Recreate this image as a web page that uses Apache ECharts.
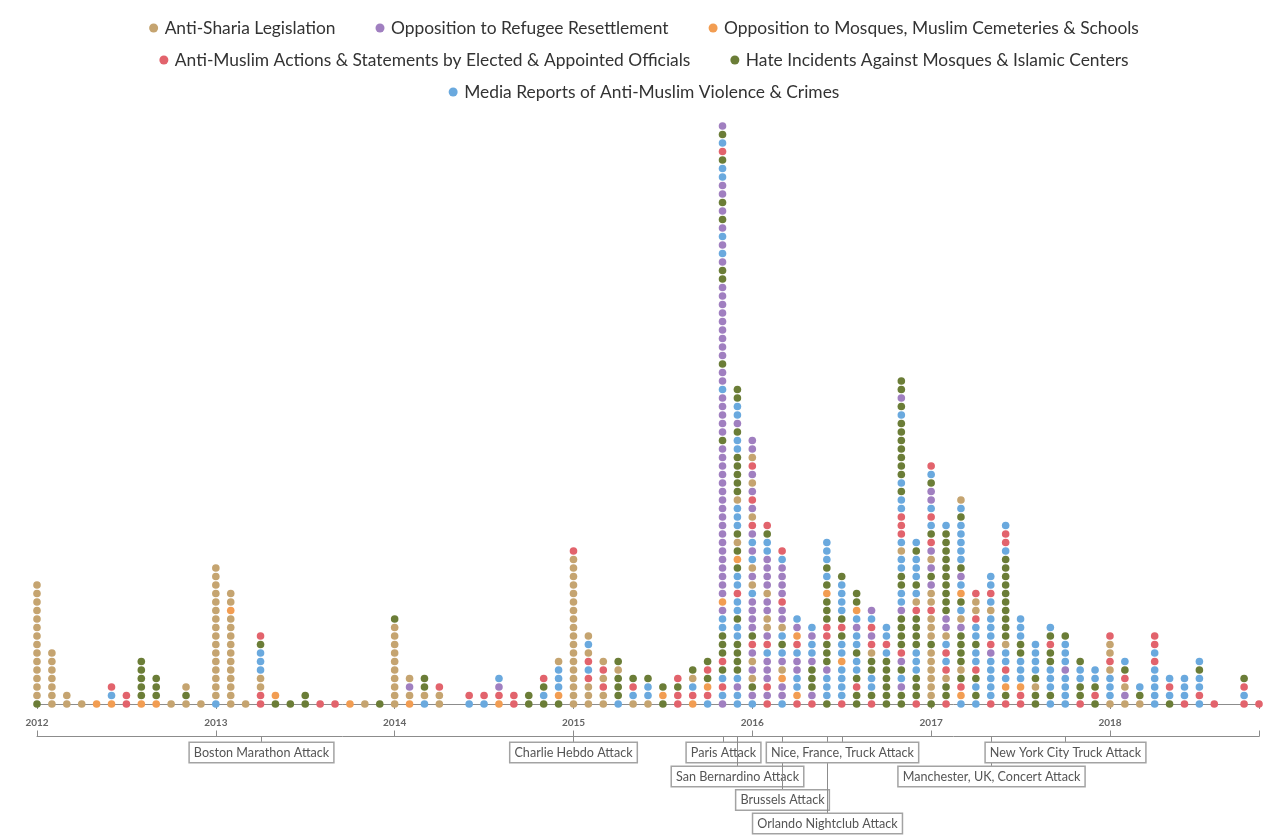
<!DOCTYPE html>
<html><head><meta charset="utf-8">
<script src="https://cdn.jsdelivr.net/npm/echarts@6/dist/echarts.min.js"></script>
<style>html,body{margin:0;background:#fff}#c{width:1288px;height:839px}</style>
</head><body><div id="c"></div>
<script>
// Category codes used in the stacks (bottom -> top)
const categoryCodes = ['S', 'R', 'M', 'O', 'H', 'V'];
const categoryNames = [
  'Anti-Sharia Legislation',
  'Opposition to Refugee Resettlement',
  'Opposition to Mosques, Muslim Cemeteries & Schools',
  'Anti-Muslim Actions & Statements by Elected & Appointed Officials',
  'Hate Incidents Against Mosques & Islamic Centers',
  'Media Reports of Anti-Muslim Violence & Crimes'
];
const categoryColors = ['#c5a470', '#a07fc0', '#f29d52', '#e2636c', '#6b7d37', '#6aa9de'];

const firstYear = 2012;
const yearTicks = ['2012', '2013', '2014', '2015', '2016', '2017', '2018'];

// One entry per month, Jan 2012 .. Nov 2018; each letter is one incident, bottom -> top
const columnStacks = [
  'HSSSSSSSSSSSSSS', 'SSSSSSS', 'SS', 'S', 'M', 'MVO', 'OO', 'MHHHHH', 'MHHH', 'S', 'SHS', 'S',
  'VSSSSSSSSSSSSSSSS', 'SSSSSSSSSSSMSS', 'S', 'OOSSVVVHO', 'HM', 'H', 'HH', 'O', 'O', 'M', 'S', 'H',
  'SSSSSSSSSSH', 'MSRS', 'VSHH', 'SSO', '', 'VO', 'VO', 'MORV', 'OO', 'HH', 'HVHO', 'HMVVVS',
  'SSSSSSSSSSSSSSSSSSO', 'SSSOVOSVS', 'SSOSOS', 'VHHHSH', 'SVOH', 'SVVH', 'HMH', 'OOHO', 'MOVSH', 'VOMHOH',
  'RVOVHOHHHVVRMRRRRRRRRRRRRRRRRRRHRRRRRVRRHRRRRRRRRRHHRVRVRHRHRRVVHOVHR',
  'VVRVHHHHVVHVVOVVHMHSHVVVSHHHHHVVHRVVHH',
  'VRHSRSROHRRRRVSRSVRVROSRORSROSRR', 'ORORRRVORSSRRSRRRRVVHO', 'VRRMSRVHVSRRORRRRVO', 'OMVVRRVOMRV',
  'ORHHHRVVRV', 'HVVVRHHHOOHHHMHVHVVV', 'OVVVVMVVHOHVVVVH', 'HHOHVVHVVRVMHH', 'OHVVHHSOROVR', 'HHHHHHVOVV',
  'HHRVHROHHHHRVVHHVVSVOOOVVHVHHHHHHHVHRHH', 'OHHHVVVHHHHOSVHVVVHV',
  'HSSSSSSHSSSOSSRHRSROHVOVRRHVO', 'OHHSOVOVSRRHHHHHHHHHHV', 'VMOHSHHHHRSVHMVRHVVVVVHVS', 'VHVHOVVHVVOSSO',
  'OVVVVVROVVVSVOVV', 'OHMVOVVSHHHHHHHHHHVOOV', 'OOMVVVHHVVV', 'HHSHVVVV', 'VHVVVHHOHV', 'VVVVRVVVH',
  'OHHVVH', 'HOHVV', 'SVVVSOSSO', 'SRSOHV', 'SHV', 'VVVVVOVOO', 'HVOV', 'OVVV', 'VOVVHV', 'O', '', 'OVOH', 'O'
];

// Annotated events (month index from Jan 2012) and the label row they sit in
const eventNames = ['Boston Marathon Attack', 'Charlie Hebdo Attack', 'Paris Attack', 'San Bernardino Attack',
  'Brussels Attack', 'Orlando Nightclub Attack', 'Nice, France, Truck Attack', 'Manchester, UK, Concert Attack',
  'New York City Truck Attack'];
const eventMonths = [15, 36, 46, 47, 50, 53, 54, 64, 69];
const eventRows = [0, 0, 0, 1, 2, 3, 0, 1, 0];

const lastMonth = columnStacks.length - 1;

const series = categoryCodes.map((code, ci) => {
  const data = [];
  columnStacks.forEach((stack, m) => {
    for (let lvl = 0; lvl < stack.length; lvl++) {
      if (stack[lvl] === code) data.push([m, lvl]);
    }
  });
  return {
    name: categoryNames[ci], type: 'scatter', symbol: 'circle', symbolSize: 7.6,
    itemStyle: { color: categoryColors[ci], opacity: 1 },
    data, silent: true, animation: false
  };
});

const chart = echarts.init(document.getElementById('c'), null, { renderer: 'canvas' });
const legendText = { fontSize: 17.4, fontFamily: 'Lato', color: '#333', lineHeight: 18 };
const legendBase = { left: 'center', icon: 'circle', itemWidth: 12, itemHeight: 9, itemGap: 40, textStyle: legendText, selectedMode: false };

chart.setOption({
  backgroundColor: '#fff',
  animation: false,
  legend: [
    Object.assign({ top: 14, data: categoryNames.slice(0, 3) }, legendBase),
    Object.assign({ top: 46, data: categoryNames.slice(3, 5) }, legendBase),
    Object.assign({ top: 78, data: categoryNames.slice(5) }, legendBase)
  ],
  grid: { left: 37, right: 29, top: 32.5, bottom: 126.5 },
  xAxis: [
    {
      type: 'value', min: 0, max: lastMonth, interval: 12,
      axisLine: { lineStyle: { color: '#8c8c8c', width: 1 } },
      axisTick: { length: 5, lineStyle: { color: '#8c8c8c' } },
      splitLine: { show: false },
      axisLabel: {
        margin: 5, fontSize: 10, fontWeight: 'bold', fontFamily: 'Lato', color: '#666',
        showMaxLabel: true,
        formatter: v => (v % 12 === 0 ? yearTicks[v / 12] : '')
      }
    },
    {
      type: 'value', min: 0, max: lastMonth, interval: 12, position: 'bottom', offset: 24,
      axisLine: { lineStyle: { color: '#8c8c8c', width: 1 } },
      axisTick: { inside: true, length: 6, lineStyle: { color: '#8c8c8c' } },
      splitLine: { show: false }, axisLabel: { show: false }
    }
  ],
  yAxis: { type: 'value', min: -1, max: 79, show: false, splitLine: { show: false } },
  series
});

// Event annotations positioned through the x scale
const baseY = chart.convertToPixel({ yAxisIndex: 0 }, -1) + 24;
const rowCenters = [baseY + 16, baseY + 40, baseY + 63.5, baseY + 87];
const graphics = [];
eventNames.forEach((name, i) => {
  const x = Math.round(chart.convertToPixel({ xAxisIndex: 0 }, eventMonths[i])) + 0.5;
  const cy = rowCenters[eventRows[i]];
  graphics.push({
    type: 'line', z: 100 + i * 2, silent: true,
    shape: { x1: x, y1: baseY, x2: x, y2: cy - 10 },
    style: { stroke: '#8c8c8c', lineWidth: 1 }
  });
  graphics.push({
    type: 'text', z: 101 + i * 2, silent: true, x: x, y: cy,
    style: {
      text: name, align: 'center', verticalAlign: 'middle',
      fontSize: 12.6, fontFamily: 'Lato', fill: '#555',
      backgroundColor: '#fff', borderColor: '#a3a3a3', borderWidth: 1.5,
      padding: [3, 4, 2, 4], lineHeight: 14
    }
  });
});
chart.setOption({ graphic: graphics });
</script>
</body></html>
